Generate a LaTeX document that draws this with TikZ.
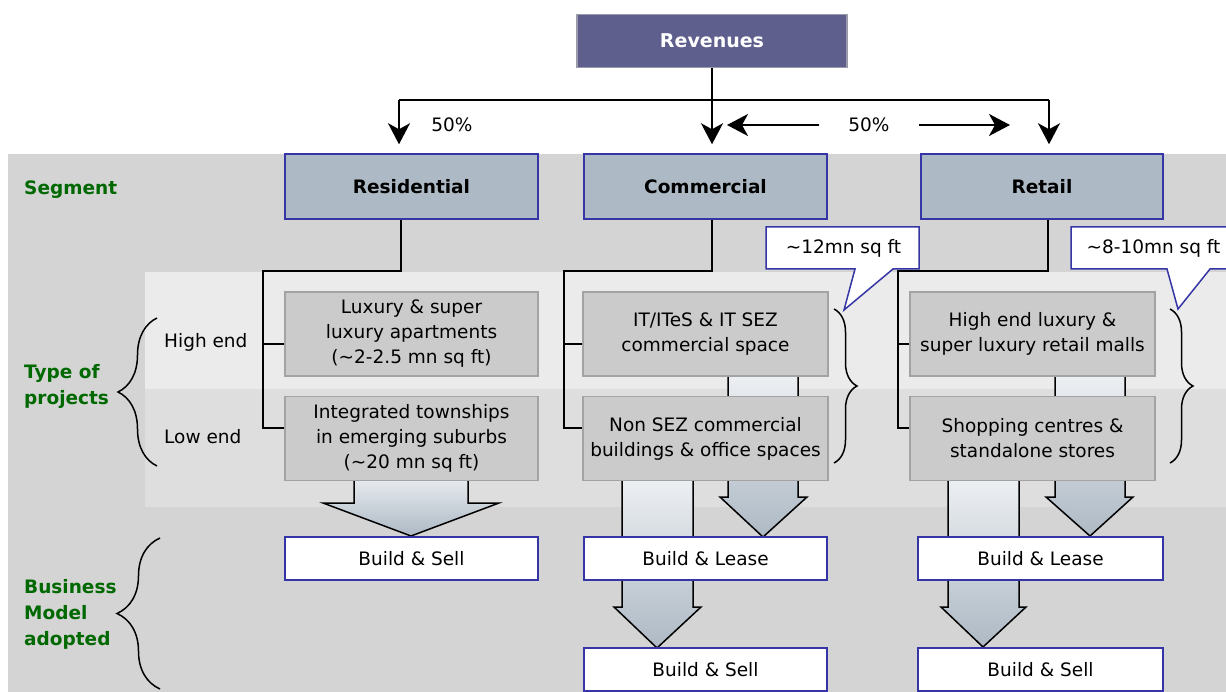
\documentclass[tikz,border=0pt]{standalone}
\usepackage{fontspec}
\setmainfont{DejaVu Sans}
\usetikzlibrary{arrows.meta,decorations.pathreplacing,calc}
\definecolor{bgA}{HTML}{D4D4D4}
\definecolor{bgB}{HTML}{EBEBEB}
\definecolor{bgC}{HTML}{DEDEDE}
\definecolor{revfill}{HTML}{5F5F8E}
\definecolor{revbd}{HTML}{9A9AAA}
\definecolor{segfill}{HTML}{ADBAC5}
\definecolor{bluebd}{HTML}{3535A5}
\definecolor{projfill}{HTML}{CBCBCB}
\definecolor{projbd}{HTML}{A3A3A3}
\definecolor{lblgreen}{HTML}{006800}
\definecolor{shtop}{HTML}{F0F2F5}
\definecolor{shbot}{HTML}{ADB9C4}
\pgfdeclarelayer{back}
\pgfdeclarelayer{mid}
\pgfsetlayers{back,mid,main}
\begin{document}
\begin{tikzpicture}[x=1pt,y=-1pt,
 txt/.style={font=\fontsize{18.5}{25}\selectfont, inner sep=0pt, align=center},
 revbox/.style={draw=revbd, fill=revfill, line width=1.5pt, text=white, font=\fontsize{19}{25}\selectfont\bfseries, minimum width=270pt, minimum height=53pt, inner sep=0pt},
 segbox/.style={draw=bluebd, fill=segfill, line width=1.5pt, font=\fontsize{18.5}{25}\selectfont\bfseries, minimum height=65pt, inner sep=0pt},
 projbox/.style={draw=projbd, fill=projfill, line width=1.5pt, txt, minimum width=245pt, minimum height=84pt},
 bmbox/.style={draw=bluebd, fill=white, line width=1.5pt, txt, minimum height=43pt},
 conn/.style={line width=2pt, draw=black},
 arrowtip/.style={-{Stealth[length=21pt,width=22pt,inset=6pt]}},
 blk/.style={top color=shtop, bottom color=shbot, draw=black, line width=1.5pt},
 brc/.style={line width=1.5pt, decorate},
 lbl/.style={font=\fontsize{18.5}{26}\selectfont\bfseries, text=lblgreen, inner sep=0pt, align=left, anchor=west},
 calloutbox/.style={draw=bluebd, fill=white, line width=1.5pt},
]
\useasboundingbox (0,0) rectangle (1226,692);

% backgrounds
\begin{pgfonlayer}{back}
\fill[bgA] (8,154) rectangle (1226,692);
\fill[bgB] (145,272) rectangle (1226,389);
\fill[bgC] (145,389) rectangle (1226,507);
\end{pgfonlayer}

% top
\node[revbox] (rev) at (712,41) {Revenues};
\node[segbox, minimum width=253pt] (res) at (411.5,186.5) {Residential};
\node[segbox, minimum width=243pt] (com) at (705.5,186.5) {Commercial};
\node[segbox, minimum width=242pt] (ret) at (1042,186.5) {Retail};

\coordinate (sl) at (399,100);
\coordinate (sr) at (1049,100);
\draw[conn] (sl) -- (sr);
\draw[conn,arrowtip,shorten >=9pt] (rev.south) -- (rev.south |- com.north);
\draw[conn,arrowtip,shorten >=9pt] (sl) -- (sl |- res.north);
\draw[conn,arrowtip,shorten >=9pt] (sr) -- (sr |- ret.north);

\node[txt] (pa) at (452,125) {50\%};
\node[txt] (pb) at (869,125) {50\%};
\coordinate (pbl) at (727,125);
\coordinate (pbr) at (1010,125);
\draw[conn,arrowtip] ([xshift=-29pt]pb.west) -- (pbl);
\draw[conn,arrowtip] ([xshift=29pt]pb.east) -- (pbr);

% project boxes
\node[projbox, minimum width=253pt] (resh) at (411.5,334) {Luxury \& super\\luxury apartments\\(\textasciitilde2-2.5 mn sq ft)};
\node[projbox, minimum width=253pt] (resl) at (411.5,438.5) {Integrated townships\\in emerging suburbs\\(\textasciitilde20 mn sq ft)};
\node[projbox] (comh) at (705.5,334) {IT/ITeS \& IT SEZ\\commercial space};
\node[projbox] (coml) at (705.5,438.5) {Non SEZ commercial\\buildings \& office spaces};
\node[projbox] (reth) at (1032.5,334) {High end luxury \&\\super luxury retail malls};
\node[projbox] (retl) at (1032.5,438.5) {Shopping centres \&\\standalone stores};

% business model boxes
\node[bmbox, minimum width=253pt] (resbm) at (411.5,558.5) {Build \& Sell};
\node[bmbox, minimum width=243pt] (combl) at (705.5,558.5) {Build \& Lease};
\node[bmbox, minimum width=243pt] (combs) at (705.5,669.5) {Build \& Sell};
\node[bmbox, minimum width=245pt] (retbl) at (1040.5,558.5) {Build \& Lease};
\node[bmbox, minimum width=245pt] (retbs) at (1040.5,669.5) {Build \& Sell};

% segment connectors
\coordinate (rjx) at (263,271);
\coordinate (cjx) at (564,271);
\coordinate (tjx) at (898,271);
\draw[conn] ([xshift=-10.5pt]res.south) |- (rjx) |- ([yshift=10.5pt]resl.west);
\draw[conn] ([yshift=-10pt]resh.west) -| (rjx);
\draw[conn] ([xshift=6.5pt]com.south) |- (cjx) |- ([yshift=10.5pt]coml.west);
\draw[conn] ([yshift=-10pt]comh.west) -| (cjx);
\draw[conn] ([xshift=6pt]ret.south) |- (tjx) |- ([yshift=10.5pt]retl.west);
\draw[conn] ([yshift=-10pt]reth.west) -| (tjx);

% block arrows
\begin{pgfonlayer}{mid}
\shadedraw[blk] (354,470) -- (354,503) -- (323,503) -- (411,536) -- (499,503) -- (468,503) -- (468,470) -- cycle;
\shadedraw[blk] (728,366) -- (728,497) -- (720,497) -- (763,537) -- (807,497) -- (798,497) -- (798,366) -- cycle;
\shadedraw[blk] (622,470) -- (622,607) -- (614,607) -- (657,648) -- (701,607) -- (693,607) -- (693,470) -- cycle;
\shadedraw[blk] (1055,366) -- (1055,497) -- (1046,497) -- (1090,536) -- (1133,497) -- (1125,497) -- (1125,366) -- cycle;
\shadedraw[blk] (948,470) -- (948,607) -- (941,607) -- (983,647) -- (1026,607) -- (1019,607) -- (1019,470) -- cycle;
\end{pgfonlayer}

% braces
\draw[brc, decoration={brace,amplitude=39pt}] (157,466) -- (157,318);
\draw[brc, decoration={brace,amplitude=43pt}] (160,689) -- (160,538);
\draw[brc, decoration={brace,amplitude=23pt}] (834,309) -- (834,463);
\draw[brc, decoration={brace,amplitude=23pt}] (1170,309) -- (1170,463);

% left labels
\node[lbl] (lseg) at (24,190) {Segment};
\node[lbl] (ltype) at (24,386) {Type of\\projects};
\node[lbl] (lbus) at (24,614.5) {Business\\Model\\adopted};
\node[txt, anchor=west] (hi) at (164,342) {High end};
\node[txt, anchor=west] (lo) at (164,437) {Low end};

% callouts
\draw[calloutbox] (766,227) -- (919,227) -- (919,269) -- (893,269) -- (844,310) -- (855,269) -- (766,269) -- cycle;
\node[txt] (c12) at (843.5,248) {\textasciitilde12mn sq ft};
\draw[calloutbox] (1071,227) -- (1240,227) -- (1240,269) -- (1210,269) -- (1178,309) -- (1167,269) -- (1071,269) -- cycle;
\node[txt] (c810) at (1153.5,248) {\textasciitilde8-10mn sq ft};
\end{tikzpicture}
\end{document}
